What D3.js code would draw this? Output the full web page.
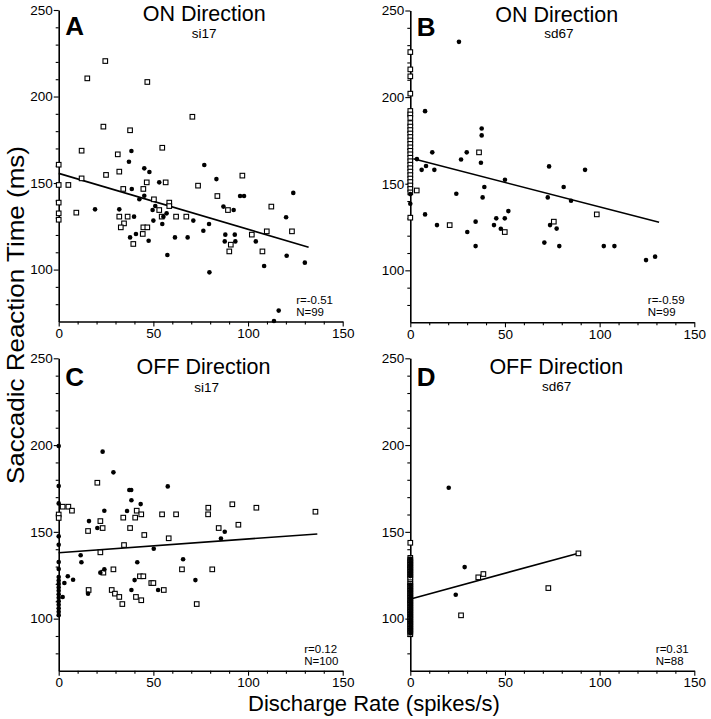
<!DOCTYPE html>
<html>
<head>
<meta charset="utf-8">
<script src="https://cdn.jsdelivr.net/npm/d3@7"></script>
<style>
  html, body { margin: 0; padding: 0; background: #fff; }
  svg { display: block; }
  text { font-family: "Liberation Sans", Arial, Helvetica, sans-serif; fill: #000; }
</style>
</head>
<body>
<svg id="chart" width="711" height="719"></svg>
<script>
// ---------------- DATA ----------------
const xTickValues = [0, 50, 100, 150];
const yTickValues = [100, 150, 200, 250];
const xDomain = [0, 150];
const yDomain = [70, 250];

const panelLetters = ["A", "B", "C", "D"];
const panelTitles = ["ON Direction", "ON Direction", "OFF Direction", "OFF Direction"];
const panelSubtitles = ["si17", "sd67", "si17", "sd67"];
const panelR = ["r=-0.51", "r=-0.59", "r=0.12", "r=0.31"];
const panelN = ["N=99", "N=99", "N=100", "N=88"];

// Panel A (ON, si17)
const aSquares = [[15.1,210.5],[24.6,220.5],[46.8,208.4],[70.6,188.3],[23.6,182.6],[37.7,180.5],[12.1,168.7],[31.2,166.6],[54.7,170.4],[32,156.6],[25,154.7],[97,154.3],[12.1,152.7],[0,160.6],[0,148.9],[5.1,148.9],[0,138.7],[0,132.5],[0,128.8],[9.3,132.9],[46.5,150.4],[56.5,150.4],[34.1,146.6],[44.7,146.6],[50.3,140.6],[58.4,138.7],[58.4,136.7],[53.1,134.4],[32,130.6],[36.4,130.6],[54.4,130.6],[62,130.6],[67.4,130.6],[34.5,126.7],[32.8,124.4],[44.7,124.4],[46.8,124.4],[44.4,120.6],[39.4,114.8],[73.6,148.5],[83.8,142.5],[89.4,134.4],[90.9,114.4],[90.1,110.5],[102,120.2],[109.9,122.1],[107.6,110.5],[112.3,136.4],[123.2,122.1]];
const aCircles = [[38.4,168.5],[37.1,162.3],[45.2,158.5],[47.9,156.4],[76.9,160.4],[83.3,152.3],[19.2,134.8],[53.1,150.4],[38.6,146.6],[45.2,142.7],[42.6,140.6],[51,136.7],[49.6,134.4],[32,134.8],[57,132.5],[39.8,130.6],[55.3,130.6],[71.1,128.3],[50,128.3],[54.7,126.3],[79.4,126.3],[76.4,122.4],[40.8,120.6],[37.7,118.6],[61.4,118.6],[68.1,118.6],[47.5,116.7],[57.4,108.4],[79.6,98.4],[87,136.4],[92.4,134.4],[95.8,142.5],[97.9,142.5],[87.7,116.3],[88,120.2],[93,120.2],[93.3,116.3],[104.1,116.3],[108.5,102.1],[120.1,130.2],[123.9,144.3],[120.4,108],[130,104],[116.2,76.3],[113.7,70.3]];
const aFit = [[0,155.6],[132,112.9]];

// Panel B (ON, sd67)
const bSquares = [[0,226],[0,216],[0,212],[0,202],[0,192],[0,190],[0,188],[0,185],[0,183],[0,181],[0,179],[0,177],[0,175],[0,173],[0,171],[0,169],[0,167],[0,165],[0,163],[0,161],[0,159],[0,157],[0,155],[0,153],[0,151],[0,149],[0,147],[0,145],[0,130.4],[3.4,146.1],[36.3,168.1],[20.8,126.1],[49.9,122.1],[75.8,128.1],[98.5,132.3]];
const bCircles = [[0,138.4],[0,144],[25.7,231.9],[7.8,191.9],[37.7,181.9],[37.7,177.9],[29.8,168.1],[11.6,168.1],[26.8,164],[37.3,162.1],[3.5,164.2],[6,158],[8.3,160.2],[12.7,158],[73.3,160],[92.3,158],[50,152.3],[7.8,132.3],[14.1,126.1],[24.3,144.2],[39.1,148.1],[38.2,142.1],[30.1,122.1],[34.5,128.1],[34.5,114],[44.2,126.1],[45.4,130],[47.8,124],[49.9,130],[51.8,134.2],[72.6,142.1],[70.8,116],[73.8,126.1],[77.3,124.1],[78.7,114],[81,148.1],[84.9,140.2],[102.2,114],[107.8,114],[124.5,105.9],[129.3,107.9]];
const bFit = [[1.6,164.4],[131.4,127.8]];

// Panel C (OFF, si17)
const cSquares = [[0,160],[0,158],[20.4,178.3],[2.1,164.5],[5.1,164.5],[7,162.2],[41.2,162.2],[43.6,160.1],[54.6,160.1],[62,160.1],[79,163.9],[78.9,160.1],[91.7,165.9],[104.4,163.9],[135.6,161.6],[34.1,158.2],[40.4,158.2],[22,156.2],[15.5,150.5],[23.2,152.2],[37.7,152.2],[45.2,148.2],[58.1,146.3],[34.5,142.4],[22,138.2],[28.9,128.4],[23.6,126.5],[65.1,128.4],[81.1,128.4],[42.9,124.4],[44.7,124.4],[48.9,120.5],[50,120.5],[15.8,116.5],[28,116.5],[55.5,116.5],[29.7,114.4],[32,112.5],[40.8,112.5],[43.6,110.6],[33.6,108.4],[72.9,108.4],[84.5,152.2],[94.9,154.1]];
const cCircles = [[0,199.5],[0,176.4],[0,166.4],[0,147.4],[0,142.6],[0,132.6],[0,128.6],[0,124],[0,122],[0,120],[0,118],[0,116],[0,114],[0,112],[0,110],[0,108],[0,106],[0,104],[0,102],[23.2,196.2],[28.9,184.3],[57.6,176.2],[37.3,174.1],[38.3,174.1],[38.4,168.2],[43.3,166],[24.1,162.2],[36.1,162],[16,156.2],[20.4,152.2],[50.2,140.3],[11.6,136.5],[12,132.5],[41.5,132.5],[65.7,134.2],[24.1,128.4],[22,126.5],[4.8,124.4],[3,120.5],[7.6,122.4],[40.1,122.2],[72.2,122.2],[15.5,114.4],[38.4,116.5],[52.5,116.5],[2.1,112.5],[87.7,150.1],[85.7,146.1]];
const cFit = [[0,138],[136.6,148.8]];

// Panel D (OFF, sd67)
const dSquares = [[0,143.7],[0,135],[0,134],[0,133],[0,132],[0,131],[0,130],[0,129],[0,128],[0,127],[0,126],[0,125],[0,124],[0,123],[0,121],[0,120],[0,119],[0,118],[0,117],[0,116],[0,115],[0,114],[0,113],[0,112],[0,111],[0,110],[0,109],[0,108],[0,107],[0,106],[0,105],[0,104],[0,103],[0,102],[0,101],[0,100],[0,99],[0,98],[0,97],[0,96],[0,95],[0,94],[0,93],[0,92],[0,91],[26.8,101.9],[35.9,123.8],[38.6,125.7],[72.9,117.6],[88.8,137.6]];
const dCircles = [[0,134.5],[0,132.5],[0,130.5],[0,128.5],[0,126.5],[0,124.5],[0,119.5],[0,117.5],[0,115.5],[0,113.5],[0,111.5],[0,109.5],[0,107.5],[0,105.5],[0,103.5],[0,101.5],[0,99.5],[0,97.5],[0,95.5],[0,93.5],[0,91.5],[20.3,175.4],[28.7,129.7],[24,113.8]];
const dFit = [[0.2,111.3],[89.8,138]];

const panelSquares = [aSquares, bSquares, cSquares, dSquares];
const panelCircles = [aCircles, bCircles, cCircles, dCircles];
const panelFits = [aFit, bFit, cFit, dFit];

// ---------------- LAYOUT ----------------
const layout = [
  {left: 58.7, top: 10,    bottom: 321.5, titleY: 11,   subY: 27.7, letterY: 25,   titleDx: 145.5, subDx: 145.5},
  {left: 410.3, top: 10.5, bottom: 322.3, titleY: 11.5, subY: 27.5, letterY: 25,   titleDx: 146.4, subDx: 148.5},
  {left: 58.7, top: 358.3, bottom: 670.7, titleY: 15.5, subY: 33.3, letterY: 27.4, titleDx: 144.8, subDx: 148},
  {left: 410.3, top: 358.3, bottom: 670.7, titleY: 15.5, subY: 32.5, letterY: 27.4, titleDx: 146,   subDx: 146.4}
];
const plotW = 284;

const svg = d3.select("#chart");
svg.append("rect").attr("width", 711).attr("height", 719).attr("fill", "#fff");

layout.forEach((L, i) => {
  const x = d3.scaleLinear().domain(xDomain).range([L.left, L.left + plotW]);
  const y = d3.scaleLinear().domain(yDomain).range([L.bottom, L.top]);
  const g = svg.append("g");

  const xMinor = d3.range(10, 150, 10).filter(v => v % 50 !== 0);
  const yMinor = d3.range(80, 250, 10).filter(v => v % 50 !== 0);

  const xAxis = g.append("g").attr("transform", `translate(0,${L.bottom})`)
    .call(d3.axisBottom(x).tickValues(xTickValues).tickSize(5).tickPadding(2).tickSizeOuter(0));
  const xAxisMinor = g.append("g").attr("transform", `translate(0,${L.bottom})`)
    .call(d3.axisBottom(x).tickValues(xMinor).tickSize(3).tickFormat("").tickSizeOuter(0));
  const yAxis = g.append("g").attr("transform", `translate(${L.left},0)`)
    .call(d3.axisLeft(y).tickValues(yTickValues).tickSize(5).tickPadding(1).tickSizeOuter(0));
  const yAxisMinor = g.append("g").attr("transform", `translate(${L.left},0)`)
    .call(d3.axisLeft(y).tickValues(yMinor).tickSize(3).tickFormat("").tickSizeOuter(0));

  [xAxis, xAxisMinor, yAxis, yAxisMinor].forEach(a => {
    a.selectAll("path.domain").attr("stroke", "#000").attr("stroke-width", 1.6);
    a.selectAll(".tick line").attr("stroke", "#000").attr("stroke-width", 1.1);
    a.selectAll(".tick text").attr("font-size", 13.5).attr("fill", "#000")
      .attr("font-family", '"Liberation Sans", Arial, Helvetica, sans-serif');
  });
  xAxisMinor.select("path.domain").remove();
  yAxisMinor.select("path.domain").remove();

  // regression line
  g.append("path")
    .attr("d", d3.line().x(d => x(d[0])).y(d => y(d[1]))(panelFits[i]))
    .attr("stroke", "#000").attr("stroke-width", 1.6).attr("fill", "none");

  // squares (open)
  const s = 4.6;
  g.append("g").selectAll("rect").data(panelSquares[i]).join("rect")
    .attr("x", d => x(d[0]) - s / 2).attr("y", d => y(d[1]) - s / 2)
    .attr("width", s).attr("height", s)
    .attr("fill", "#fff").attr("stroke", "#000").attr("stroke-width", 1.1);

  // circles (filled)
  g.append("g").selectAll("circle").data(panelCircles[i]).join("circle")
    .attr("cx", d => x(d[0])).attr("cy", d => y(d[1])).attr("r", 2.3)
    .attr("fill", "#000");

  // texts
  g.append("text").attr("x", L.left + 6.5).attr("y", L.top + L.letterY)
    .attr("font-size", 26).attr("font-weight", "bold").text(panelLetters[i]);
  g.append("text").attr("x", L.left + L.titleDx).attr("y", L.top + L.titleY)
    .attr("text-anchor", "middle").attr("font-size", 21.5).text(panelTitles[i]);
  g.append("text").attr("x", L.left + L.subDx).attr("y", L.top + L.subY)
    .attr("text-anchor", "middle").attr("font-size", 13.5).text(panelSubtitles[i]);
  const statX = (i < 2) ? L.left + 237.5 : L.left + 245.5;
  g.append("text").attr("x", statX).attr("y", L.bottom - 18)
    .attr("font-size", 11.5).text(panelR[i]);
  g.append("text").attr("x", statX).attr("y", L.bottom - 6)
    .attr("font-size", 11.5).text(panelN[i]);
});

// axis titles
svg.append("text")
  .attr("transform", "translate(24,315) rotate(-90)")
  .attr("text-anchor", "middle").attr("font-size", 24)
  .attr("textLength", 338).attr("lengthAdjust", "spacingAndGlyphs")
  .text("Saccadic Reaction Time (ms)");
svg.append("text")
  .attr("x", 374).attr("y", 710.5)
  .attr("text-anchor", "middle").attr("font-size", 22)
  .text("Discharge Rate (spikes/s)");
</script>
</body>
</html>
